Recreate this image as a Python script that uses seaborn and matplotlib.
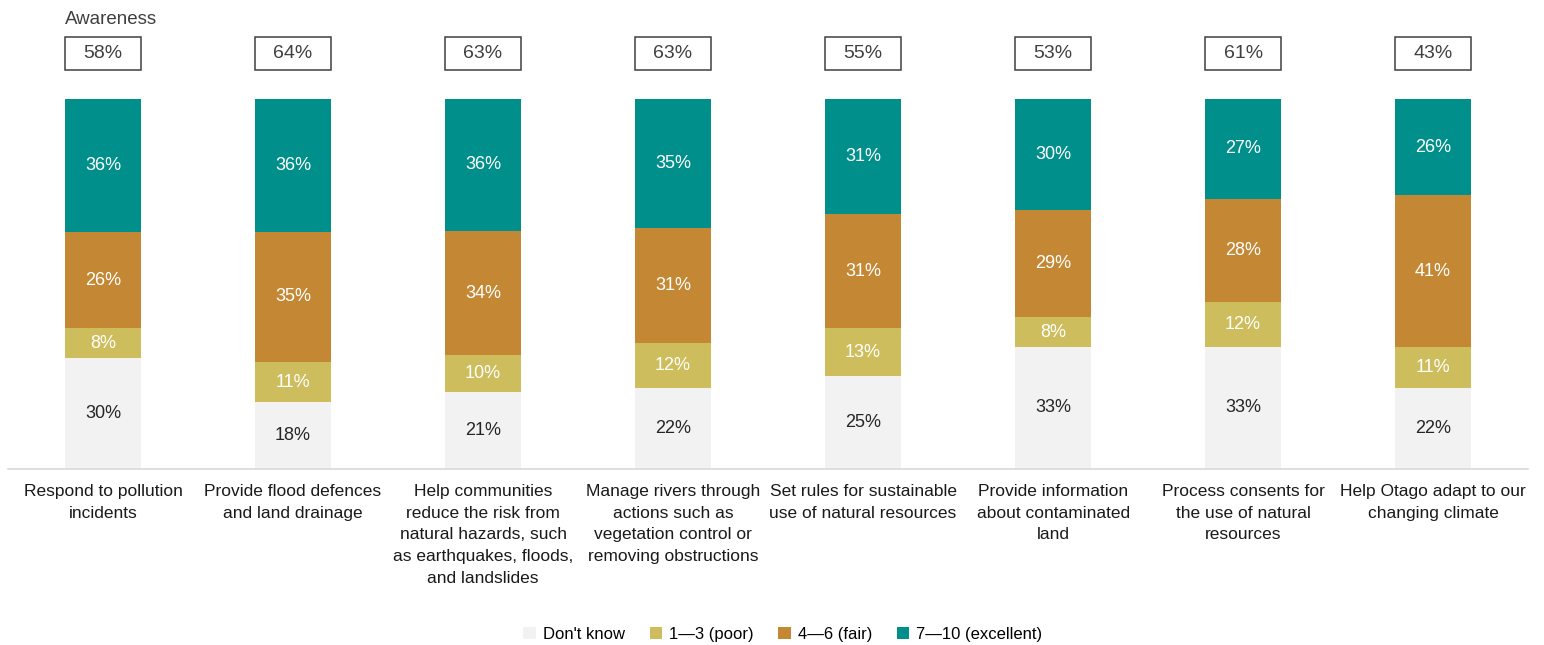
import pandas as pd
import seaborn as sns
import matplotlib.pyplot as plt
from matplotlib.patches import Rectangle, Patch

categories = [
    "Respond to pollution\nincidents",
    "Provide flood defences\nand land drainage",
    "Help communities\nreduce the risk from\nnatural hazards, such\nas earthquakes, floods,\nand landslides",
    "Manage rivers through\nactions such as\nvegetation control or\nremoving obstructions",
    "Set rules for sustainable\nuse of natural resources",
    "Provide information\nabout contaminated\nland",
    "Process consents for\nthe use of natural\nresources",
    "Help Otago adapt to our\nchanging climate",
]
dont_know = [30, 18, 21, 22, 25, 33, 33, 22]
poor = [8, 11, 10, 12, 13, 8, 12, 11]
fair = [26, 35, 34, 31, 31, 29, 28, 41]
excellent = [36, 36, 36, 35, 31, 30, 27, 26]
awareness = [58, 64, 63, 63, 55, 53, 61, 43]

series_names = ["Don't know", "1\u20143 (poor)", "4\u20146 (fair)", "7\u201410 (excellent)"]
colors = ["#F2F2F2", "#CDBD5C", "#C48834", "#008F8A"]
text_colors = ["#262626", "white", "white", "white"]

plt.rcParams['font.family'] = ['Liberation Sans', 'DejaVu Sans']

df = pd.DataFrame({"cat": categories, "dk": dont_know, "poor": poor,
                   "fair": fair, "exc": excellent})
layers = ["dk", "poor", "fair", "exc"]
total = df[layers].sum(axis=1)
share = df[layers].div(total, axis=0) * 100
cum = share.cumsum(axis=1)

fig = plt.figure(figsize=(15.44, 6.45), dpi=100)
ax = fig.add_axes([0.0052, 0.2729, 0.9845, 0.5736])

# draw cumulative stacks from top layer down
for i in range(3, -1, -1):
    sns.barplot(x=df["cat"], y=cum[layers[i]], color=colors[i], width=0.4,
                saturation=1, ax=ax, linewidth=0, order=categories)

# segment labels
for j in range(len(categories)):
    for i, key in enumerate(layers):
        top = cum[key].iloc[j]
        bottom = top - share[key].iloc[j]
        ax.text(j, (top + bottom) / 2, f"{df[key].iloc[j]}%", ha="center",
                va="center", fontsize=13, color=text_colors[i])

ax.set_xlim(-0.5, len(categories) - 0.5)
ax.set_ylim(0, 100)
ax.set_xlabel("")
ax.set_ylabel("")
ax.set_yticks([])
ax.set_xticks(range(len(categories)))
ax.set_xticklabels(categories, linespacing=1.55, fontsize=12.5, color="#1a1a1a")
ax.tick_params(axis="x", length=0, pad=11)
for s in ["top", "right", "left"]:
    ax.spines[s].set_visible(False)
ax.spines["bottom"].set_color("#D9D9D9")
ax.spines["bottom"].set_linewidth(1.2)

# awareness boxes
for j, v in enumerate(awareness):
    ax.add_patch(Rectangle((j - 0.2, 107.8), 0.4, 9.0, fill=False,
                           edgecolor="#404040", linewidth=1.1, clip_on=False))
    ax.text(j, 112.3, f"{v}%", ha="center", va="center", fontsize=14,
            color="#404040", clip_on=False)
ax.text(-0.2, 121.6, "Awareness", ha="left", va="center", fontsize=13.5,
        color="#404040", clip_on=False)

handles = [Patch(facecolor=c, edgecolor="none") for c in colors]
fig.legend(handles, series_names, loc="center", bbox_to_anchor=(0.507, 0.017),
           ncol=4, frameon=False, fontsize=12, handlelength=0.75,
           handleheight=0.75, handletextpad=0.4, columnspacing=1.5)

fig.savefig("out.png", dpi=100)
